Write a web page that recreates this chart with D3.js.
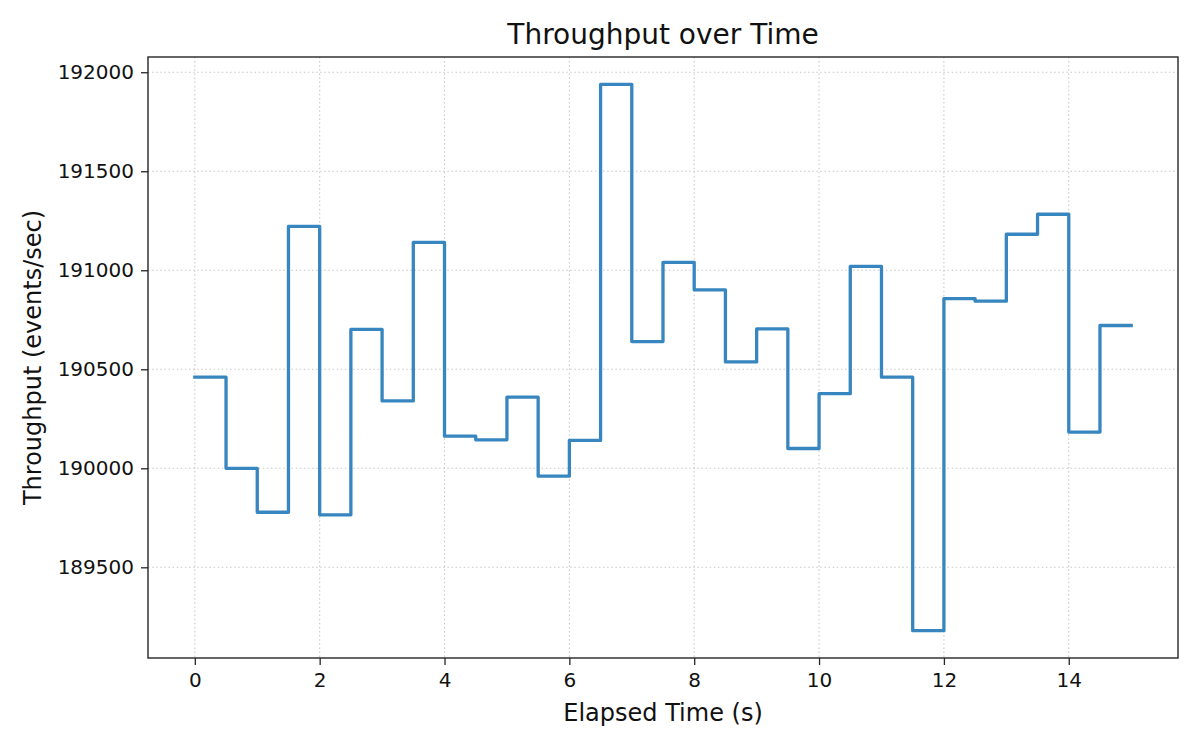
<!DOCTYPE html>
<html>
<head>
<meta charset="utf-8">
<script src="https://cdn.jsdelivr.net/npm/d3@7"></script>
<style>
    body { margin: 0; background: #fff; }
    svg { display: block; font-family: "DejaVu Sans", sans-serif; }
    .grid line { stroke: #c8c8c8; stroke-width: 1.1; stroke-dasharray: 1.5,2.6; }
    .axis text { fill: #111; font-size: 20px; font-family: "DejaVu Sans", sans-serif; }
    .axis line, .axis path { stroke: #262626; }
</style>
</head>
<body>
<svg id="chart" width="1200" height="750"></svg>
<script>
// elapsed time (s) for each sample
const times = [0, 0.5, 1, 1.5, 2, 2.5, 3, 3.5, 4, 4.5, 5, 5.5, 6, 6.5, 7, 7.5,
    8, 8.5, 9, 9.5, 10, 10.5, 11, 11.5, 12, 12.5, 13, 13.5, 14, 14.5, 15];

// throughput (events/sec) at each sample
const throughput = [190460, 190000, 189778, 191222, 189765, 190702, 190340, 191141,
    190162, 190144, 190359, 189960, 190141, 191939, 190640, 191040,
    190901, 190537, 190704, 190100, 190377, 191020, 190460, 189180,
    190857, 190844, 191182, 191283, 190183, 190721, 190721];

const xTicks = [0, 2, 4, 6, 8, 10, 12, 14];
const yTicks = [189500, 190000, 190500, 191000, 191500, 192000];

const margin = { top: 57, right: 22, bottom: 92, left: 148 };
const width = 1200, height = 750;
const innerW = width - margin.left - margin.right;
const innerH = height - margin.top - margin.bottom;

const svg = d3.select("#chart");
const g = svg.append("g")
    .attr("transform", `translate(${margin.left},${margin.top})`);

const points = times.map((t, i) => ({ t, v: throughput[i] }));

// matplotlib-like 5% padding on both axes
const [x0, x1] = d3.extent(times);
const [y0, y1] = d3.extent(throughput);
const xPad = (x1 - x0) * 0.05, yPad = (y1 - y0) * 0.05;

const x = d3.scaleLinear().domain([x0 - xPad, x1 + xPad]).range([0, innerW]);
const y = d3.scaleLinear().domain([y0 - yPad, y1 + yPad]).range([innerH, 0]);

// Grid
g.append("g").attr("class", "grid")
    .selectAll("line.v").data(xTicks).join("line")
    .attr("x1", d => x(d)).attr("x2", d => x(d))
    .attr("y1", 0).attr("y2", innerH);

g.append("g").attr("class", "grid")
    .selectAll("line.h").data(yTicks).join("line")
    .attr("x1", 0).attr("x2", innerW)
    .attr("y1", d => y(d)).attr("y2", d => y(d));

// Step line
const line = d3.line()
    .x(d => x(d.t))
    .y(d => y(d.v))
    .curve(d3.curveStepAfter);

g.append("path")
    .datum(points)
    .attr("d", line)
    .attr("fill", "none")
    .attr("stroke", "#3886bf")
    .attr("stroke-width", 3.3)
    .attr("stroke-linejoin", "round")
    .attr("stroke-linecap", "square");

// Axes
const xAxis = g.append("g").attr("class", "axis")
    .attr("transform", `translate(0,${innerH})`)
    .call(d3.axisBottom(x).tickValues(xTicks).tickSize(7).tickPadding(8).tickFormat(d3.format("d")));

const yAxis = g.append("g").attr("class", "axis")
    .call(d3.axisLeft(y).tickValues(yTicks).tickSize(7).tickPadding(7).tickFormat(d3.format("d")));

[xAxis, yAxis].forEach(a => {
    a.attr("font-family", null).attr("font-size", null);
    a.select(".domain").remove();
    a.selectAll(".tick line").attr("stroke-width", 1.3);
});

// Frame
g.append("rect")
    .attr("width", innerW).attr("height", innerH)
    .attr("fill", "none")
    .attr("stroke", "#262626")
    .attr("stroke-width", 1.4);

// Labels
svg.append("text")
    .attr("x", margin.left + innerW / 2).attr("y", 44)
    .attr("text-anchor", "middle")
    .attr("font-size", 28)
    .attr("fill", "#111")
    .text("Throughput over Time");

svg.append("text")
    .attr("x", margin.left + innerW / 2).attr("y", 721)
    .attr("text-anchor", "middle")
    .attr("font-size", 24)
    .attr("fill", "#111")
    .text("Elapsed Time (s)");

svg.append("text")
    .attr("transform", `translate(41,${margin.top + innerH / 2}) rotate(-90)`)
    .attr("text-anchor", "middle")
    .attr("font-size", 24)
    .attr("fill", "#111")
    .text("Throughput (events/sec)");
</script>
</body>
</html>
